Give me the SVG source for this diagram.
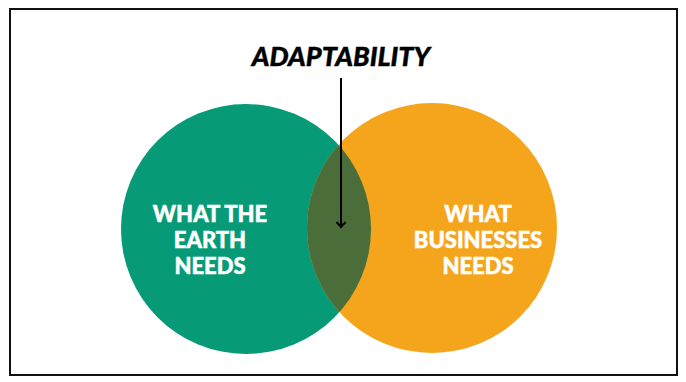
<svg xmlns="http://www.w3.org/2000/svg" width="686" height="382" viewBox="0 0 686 382">
<style>
.lbl{font-family:"Lato","Open Sans","Liberation Sans",sans-serif;font-weight:900;font-size:22px;fill:#ffffff;text-anchor:middle;stroke:#ffffff;stroke-width:0.5}
.title{font-family:"Lato","Open Sans","Liberation Sans",sans-serif;font-weight:900;font-style:italic;font-size:27px;fill:#000000;text-anchor:middle;stroke:#000;stroke-width:0.4}
</style>
<defs>
<clipPath id="clipGreen"><circle cx="246" cy="229" r="125"/></clipPath>
<marker id="arr" markerWidth="12" markerHeight="12" refX="10" refY="6" orient="auto" markerUnits="userSpaceOnUse" viewBox="0 0 12 12">
<path d="M5,1.5 L10,6 L5,10.5" fill="none" stroke="#000" stroke-width="2"/>
</marker>
</defs>
<rect x="0" y="0" width="686" height="382" fill="#ffffff"/>
<rect x="10" y="9" width="667" height="366" fill="none" stroke="#111" stroke-width="2"/>
<g id="earth">
<circle cx="246" cy="229" r="125" fill="#069A76"/>
<text class="lbl" x="210" y="222">WHAT THE</text>
<text class="lbl" x="210" y="248">EARTH</text>
<text class="lbl" x="210" y="274">NEEDS</text>
</g>
<g id="business">
<circle cx="432" cy="228" r="125" fill="#F5A51B"/>
<circle cx="432" cy="228" r="125" fill="#4B6D3A" clip-path="url(#clipGreen)"/>
<text class="lbl" x="478" y="222">WHAT</text>
<text class="lbl" x="478" y="248">BUSINESSES</text>
<text class="lbl" x="478" y="274">NEEDS</text>
</g>
<g id="adaptability">
<text class="title" x="341" y="66">ADAPTABILITY</text>
</g>
<g id="connectors">
<line x1="341" y1="78" x2="341" y2="227" stroke="#000" stroke-width="2" marker-end="url(#arr)"/>
</g>
</svg>
